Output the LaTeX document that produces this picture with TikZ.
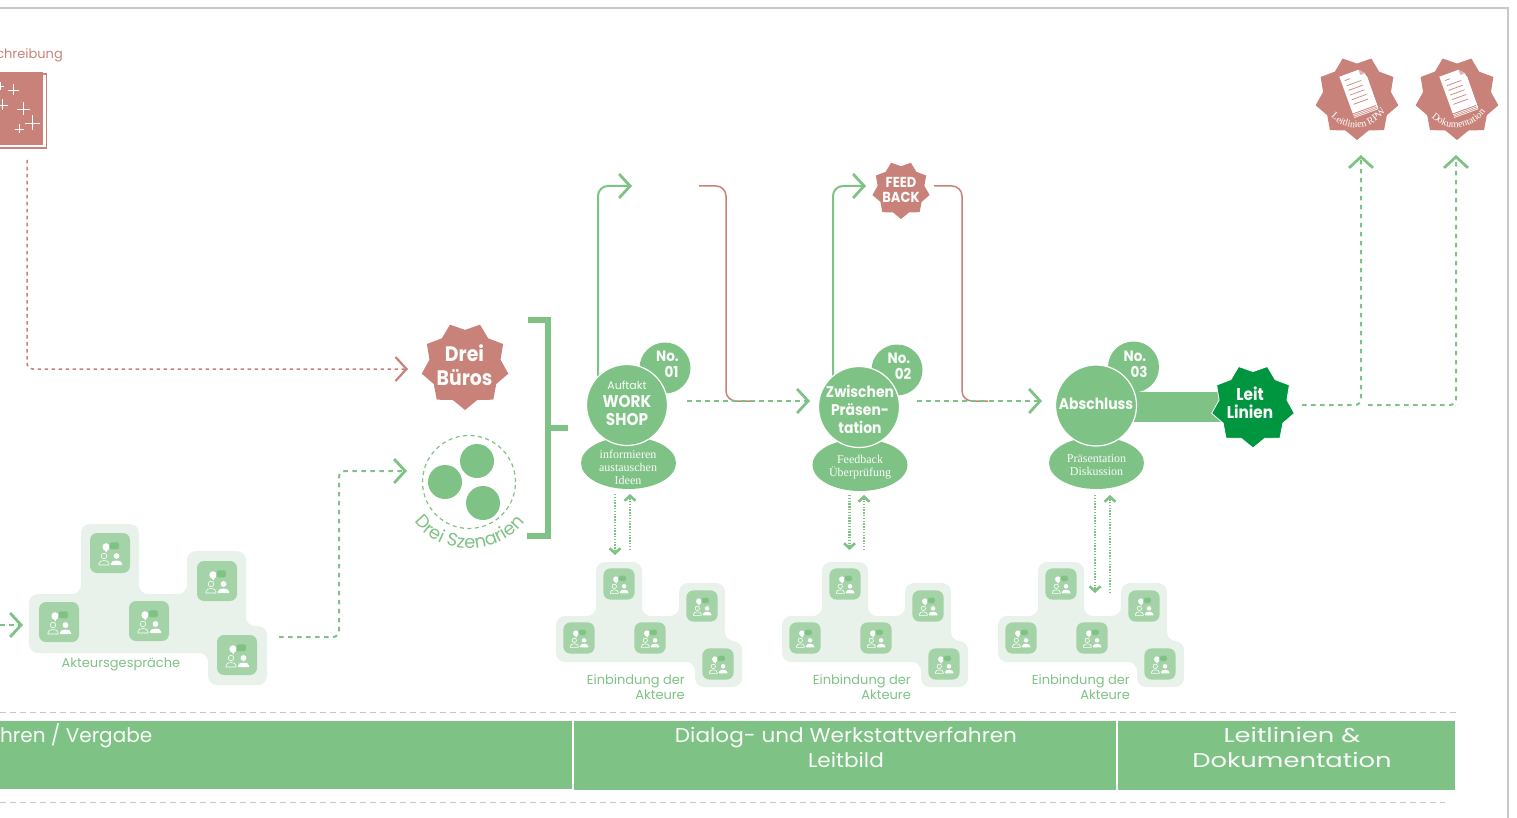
\documentclass[tikz,border=0pt]{standalone}
\usepackage{fontspec}
\setmainfont{Poppins}
\newfontfamily\serifx{Liberation Serif}
\newfontfamily\hd[FakeStretch=0.9]{Poppins}
\newfontfamily\bw[FakeStretch=1.08]{Poppins}
\newfontfamily\bx[FakeStretch=1.29]{Poppins}
\usetikzlibrary{arrows.meta,shapes.geometric,decorations.text}
\definecolor{gr}{HTML}{7FC285}
\definecolor{pk}{HTML}{C8827A}
\definecolor{dk}{HTML}{00953F}
\definecolor{lt}{HTML}{E9F2EA}
\definecolor{tl}{HTML}{A3D3A7}
\definecolor{gy}{HTML}{C8C8C8}
\definecolor{wh}{HTML}{FAFCFA}
\newcommand{\fs}[1]{\fontsize{#1}{#1}\selectfont}
\newcommand{\fsl}[2]{\fontsize{#1}{#2}\selectfont}
\tikzset{
  x=1pt,y=-1pt,
  badge/.style={star,star points=9,star point ratio=1.22,shape border rotate=180,inner sep=0pt,draw=none,fill=pk},
  lbl/.style={inner sep=0pt,align=center,text=wh},
  bigc/.style={circle,inner sep=0pt,minimum size=81pt,fill=gr,draw=white,line width=1.2pt},
  noc/.style={circle,inner sep=0pt,minimum size=51pt,fill=gr},
  oval/.style={ellipse,inner sep=0pt,minimum width=95pt,minimum height=52pt,fill=gr},
  gtext/.style={inner sep=0pt,text=gr},
  greendash/.style={draw=gr,line width=2pt,dash pattern=on 4.5pt off 4.5pt,rounded corners=6pt},
  greensolid/.style={draw=gr,line width=2pt,rounded corners=10pt},
  pinksolid/.style={draw=pk,line width=1.5pt,rounded corners=10pt},
  pinkdash/.style={draw=pk,line width=1.5pt,dash pattern=on 3.5pt off 3.5pt,rounded corners=6pt},
  chev/.style={-{Straight Barb[length=11pt,width=24pt,line width=2.8pt]}},
  chevp/.style={-{Straight Barb[length=11pt,width=24pt,line width=2.2pt]}},
  dots/.style={draw=gr,line width=2.4pt,dash pattern=on 1.4pt off 1.4pt,-{Straight Barb[length=5pt,width=11pt,line width=2.6pt]}},
  tile/.pic={
    \fill[tl,rounded corners=7pt] (-20,-20) rectangle (20,20);
    \fill[white] (-4,-6) ellipse (3.6 and 3.8);
    \fill[white] (-6,-4) -- (-3.5,-0.5) -- (-2,-4) -- cycle;
    \fill[gr,draw=tl,line width=.5pt,rounded corners=1.5pt] (-0.5,-11) rectangle (9,-3.3);
    \draw[white,line width=.6pt] (-6,3) circle (2.8);
    \draw[white,line width=.6pt] (-11,12) -- (-11,10.5) .. controls (-11,6.5) and (-1,6.5) .. (-1,10.5) -- (-1,12) -- cycle;
    \fill[white] (6.5,3) circle (2.9);
    \fill[white] (1,12) -- (1,10.5) .. controls (1,6.5) and (12,6.5) .. (12,10.5) -- (12,12) -- cycle;
  },
  docu/.pic={
    \foreach \d in {4,2.6,1.3}{\draw[white,line width=.7pt] (-11.5,17.5+\d) -- (11.5,17.5+\d) -- (11.5+\d*0.1,-10);}
    \fill[white] (-11.5,-18) -- (7,-18) -- (11.5,-13) -- (11.5,17.5) -- (-11.5,17.5) -- cycle;
    \fill[pk!60] (7,-18) -- (11.5,-13) -- (7,-13) -- cycle;
    \foreach \yy/\xx in {-13/-3,-8/6,-3.5/6,1/6,5.5/6,10/6}{\draw[pk,line width=.7pt] (-8,\yy) -- (\xx,\yy);}
  },
  actors/.pic={
    \fill[lt,rounded corners=9pt] (596,562) -- (642,562) -- (642,616) -- (679,616) -- (679,583) -- (725,583) -- (725,641) -- (742,641) -- (742,687) -- (695,687) -- (695,662) -- (556,662) -- (556,616) -- (596,616) -- cycle;
    \foreach \a/\b in {619/584,702/606,579/638,650/638,718/664}{\pic[scale=.78] at (\a,\b) {tile};}
  }
}
\begin{document}
\begin{tikzpicture}
\useasboundingbox (0,0) rectangle (1517,818);
% frame
\coordinate (fl) at (0,8); \coordinate (fc) at (1508,8); \coordinate (fb) at (1508,818);
\draw[gy,line width=1.2pt] (fl) -- (fc) -- (fb);
% book
\node[gtext,text=pk,anchor=east,font=\fs{13}] (bt) at (63,55) {chreibung};
\node[draw=pk,line width=1.5pt,fill=white,inner sep=0pt,minimum width=70pt,minimum height=74pt] (bookb) at (11.5,111) {};
\node[fill=pk,inner sep=0pt,minimum width=70pt,minimum height=73pt] (book) at (8,108.5) {};
\foreach \a/\b/\s in {0/86/4,13/90/5.5,2/105/5.5,23/109/6.5,32/123/7.5,19/129/4.5}{
  \draw[white,line width=.9pt] (\a-\s,\b) -- (\a+\s,\b) (\a,\b-\s) -- (\a,\b+\s);}
% Akteursgespräche blob
\fill[lt,rounded corners=9pt] (81,524) -- (139,524) -- (139,594) -- (187,594) -- (187,551) -- (246,551) -- (246,626) -- (267,626) -- (267,685) -- (208,685) -- (208,653) -- (29,653) -- (29,594) -- (81,594) -- cycle;
\foreach \a/\b in {110/553,217/581,59/622,149/621,237/655}{\pic at (\a,\b) {tile};}
\node[gtext,font=\fs{13}] (ag) at (121,664) {Akteursgespräche};
% left arrows
\coordinate (la) at (0,625); \coordinate (lb) at (23,625);
\draw[greendash,chev] (la) -- (lb);
\coordinate (pa) at (27,160); \coordinate (pb) at (27,369); \coordinate (pc) at (408,369);
\draw[pinkdash,chevp] (pa) -- (pb) -- (pc);
\coordinate (ga) at (279,637); \coordinate (gb) at (339,637); \coordinate (gc) at (339,471); \coordinate (gd) at (407,471);
\draw[greendash,chev] (ga) -- (gb) -- (gc) -- (gd);
% Drei Büros
\node[badge,minimum size=88pt] (bu) at (465,366) {};
\node[lbl,font=\hd\bfseries\fsl{21}{24}] (but) at (464.5,365) {Drei\\Büros};
% Szenarien
\node[circle,draw=gr,line width=1.2pt,dash pattern=on 4pt off 3.5pt,inner sep=0pt,minimum size=93pt] (sz) at (469,482) {};
\node[circle,fill=gr,inner sep=0pt,minimum size=34pt] (s1) at (477,461) {};
\node[circle,fill=gr,inner sep=0pt,minimum size=34pt] (s2) at (445,482) {};
\node[circle,fill=gr,inner sep=0pt,minimum size=34pt] (s3) at (483,503) {};
\path[decorate,decoration={text along path,text align=center,text={|\fs{18}\color{gr}|Drei Szenarien}}] (405,505) .. controls (428,563) and (510,563) .. (534,505);
% bracket
\coordinate (b1) at (528,320); \coordinate (b2) at (548,320); \coordinate (b3) at (548,536); \coordinate (b4) at (527,536); \coordinate (b5) at (548,428); \coordinate (b6) at (568,428);
\draw[gr,line width=6pt] (b1) -- (b2) -- (b3) -- (b4) (b5) -- (b6);
% flow lines
\coordinate (a1) at (598,380); \coordinate (a2) at (598,186); \coordinate (a3) at (632,186);
\draw[greensolid,chev] (a1) -- (a2) -- (a3);
\coordinate (a4) at (699,186); \coordinate (a5) at (726,186); \coordinate (a6) at (726,401); \coordinate (a7) at (755,401);
\draw[pinksolid] (a4) -- (a5) -- (a6) -- (a7);
\coordinate (a8) at (687,401); \coordinate (a9) at (810,401);
\draw[greendash,chev] (a8) -- (a9);
\coordinate (c1) at (833,380); \coordinate (c2) at (833,186); \coordinate (c3) at (866,186);
\draw[greensolid,chev] (c1) -- (c2) -- (c3);
\node[badge,minimum size=58pt] (fb1) at (901,190) {};
\node[lbl,font=\hd\bfseries\fsl{14.5}{15}] (fbt) at (fb1) {FEED\\BACK};
\coordinate (c4) at (934,186); \coordinate (c5) at (962,186); \coordinate (c6) at (962,401); \coordinate (c7) at (988,401);
\draw[pinksolid] (c4) -- (c5) -- (c6) -- (c7);
\coordinate (c8) at (917,401); \coordinate (c9) at (1042,401);
\draw[greendash,chev] (c8) -- (c9);
% stage 1
\node[noc] (n1) at (665,368) {};
\node[oval] (o1) at (628.5,463) {};
\node[bigc] (m1) at (627,405) {};
\node[lbl,font=\hd\bfseries\fsl{15}{16}] (n1t) at (667.5,364) {No.\\\hspace*{8pt}01};
\node[gtext,text=wh,font=\fs{11}] (m1a) at (627,385.5) {Auftakt};
\node[lbl,font=\hd\bfseries\fsl{17}{18}] (m1t) at (627,411) {WORK\\SHOP};
\node[lbl,font=\serifx\fsl{12}{13}] (o1t) at (628,467) {informieren\\austauschen\\Ideen};
% stage 2
\node[noc] (n2) at (897,370) {};
\node[oval] (o2) at (860,465) {};
\node[bigc] (m2) at (859,407) {};
\node[lbl,font=\hd\bfseries\fsl{15}{16}] (n2t) at (899,366) {No.\\\hspace*{8pt}02};
\node[lbl,font=\hd\bfseries\fsl{15.5}{18}] (m2t) at (860,409) {Zwischen\\Präsen-\\tation};
\node[lbl,font=\serifx\fsl{12}{13}] (o2t) at (860,467) {Feedback\\Überprüfung};
% stage 3
\draw[gr,line width=30pt] (1096,407) -- (1253,407);
\node[noc] (n3) at (1133.5,367) {};
\node[oval] (o3) at (1096.5,463) {};
\node[bigc] (m3) at (1096,405.5) {};
\node[lbl,font=\hd\bfseries\fsl{15}{16}] (n3t) at (1135,364) {No.\\\hspace*{8pt}03};
\node[lbl,font=\hd\bfseries\fs{15.5}] (m3t) at (1096,403.5) {Abschluss};
\node[lbl,font=\serifx\fsl{12}{13}] (o3t) at (1096.5,465) {Präsentation\\Diskussion};
\node[badge,fill=dk,draw=white,line width=.8pt,minimum size=84pt] (ll) at (1253,406) {};
\node[lbl,font=\hd\bfseries\fsl{17}{18}] (llt) at (1250,403) {Leit\\Linien};
% output arrows
\coordinate (d1) at (1302,405); \coordinate (d2) at (1361,405); \coordinate (d3) at (1361,155);
\draw[greendash,chev] (d1) -- (d2) -- (d3);
\coordinate (d4) at (1368,405); \coordinate (d5) at (1456,405); \coordinate (d6) at (1456,155);
\draw[greendash,chev] (d4) -- (d5) -- (d6);
% doc badges
\node[badge,minimum size=84pt] (dA) at (1357,98) {};
\node[badge,minimum size=84pt] (dB) at (1457,98) {};
\pic[rotate=20,scale=1.1] at (1358,91) {docu};
\pic[rotate=20,scale=1.1] at (1458,91) {docu};
\path[decorate,decoration={text along path,text align=center,text={|\serifx\fs{10}\color{white}|Leitlinien RPW}}] (1325,108) .. controls (1339,136) and (1378,134) .. (1391,102);
\path[decorate,decoration={text along path,text align=center,text={|\serifx\fs{10}\color{white}|Dokumentation}}] (1425,108) .. controls (1439,136) and (1478,134) .. (1491,102);
% actors
\pic at (0,0) {actors};
\pic at (226,0) {actors};
\pic at (442,0) {actors};
\node[gtext,align=right,anchor=north east,font=\fsl{13}{15}] (e1) at (685,674) {Einbindung der\\Akteure};
\node[gtext,align=right,anchor=north east,font=\fsl{13}{15}] (e2) at (911,674) {Einbindung der\\Akteure};
\node[gtext,align=right,anchor=north east,font=\fsl{13}{15}] (e3) at (1130,674) {Einbindung der\\Akteure};
% dotted pairs
\coordinate (v1) at (615,494); \coordinate (v2) at (615,555); \coordinate (v3) at (630,550); \coordinate (v4) at (630,494);
\draw[dots] (v1) -- (v2); \draw[dots] (v3) -- (v4);
\coordinate (v5) at (849.5,495); \coordinate (v6) at (849.5,550); \coordinate (v7) at (864,550); \coordinate (v8) at (864,495);
\draw[dots] (v5) -- (v6); \draw[dots] (v7) -- (v8);
\coordinate (v9) at (1095,495); \coordinate (v10) at (1095,593); \coordinate (v11) at (1110,593); \coordinate (v12) at (1110,495);
\draw[dots] (v9) -- (v10); \draw[dots] (v11) -- (v12);
% bottom
\coordinate (h1) at (0,712); \coordinate (h2) at (1459,712); \coordinate (h3) at (0,802); \coordinate (h4) at (1445,802);
\draw[gy,line width=.9pt,dash pattern=on 6pt off 4pt] (h1) -- (h2) (h3) -- (h4);
\fill[gr] (0,721) rectangle (572,789);
\fill[gr] (574,721) rectangle (1116,790);
\fill[gr] (1118,721) rectangle (1455,790);
\node[lbl,anchor=west,font=\fs{20}] (t1) at (0,736) {hren / Vergabe};
\node[lbl,font=\bw\fsl{20}{25},anchor=north] (t2) at (846,727) {Dialog- und Werkstattverfahren\\Leitbild};
\node[lbl,font=\bx\fsl{20}{25},anchor=north] (t3) at (1292,727) {Leitlinien \&\\Dokumentation};
\end{tikzpicture}
\end{document}
